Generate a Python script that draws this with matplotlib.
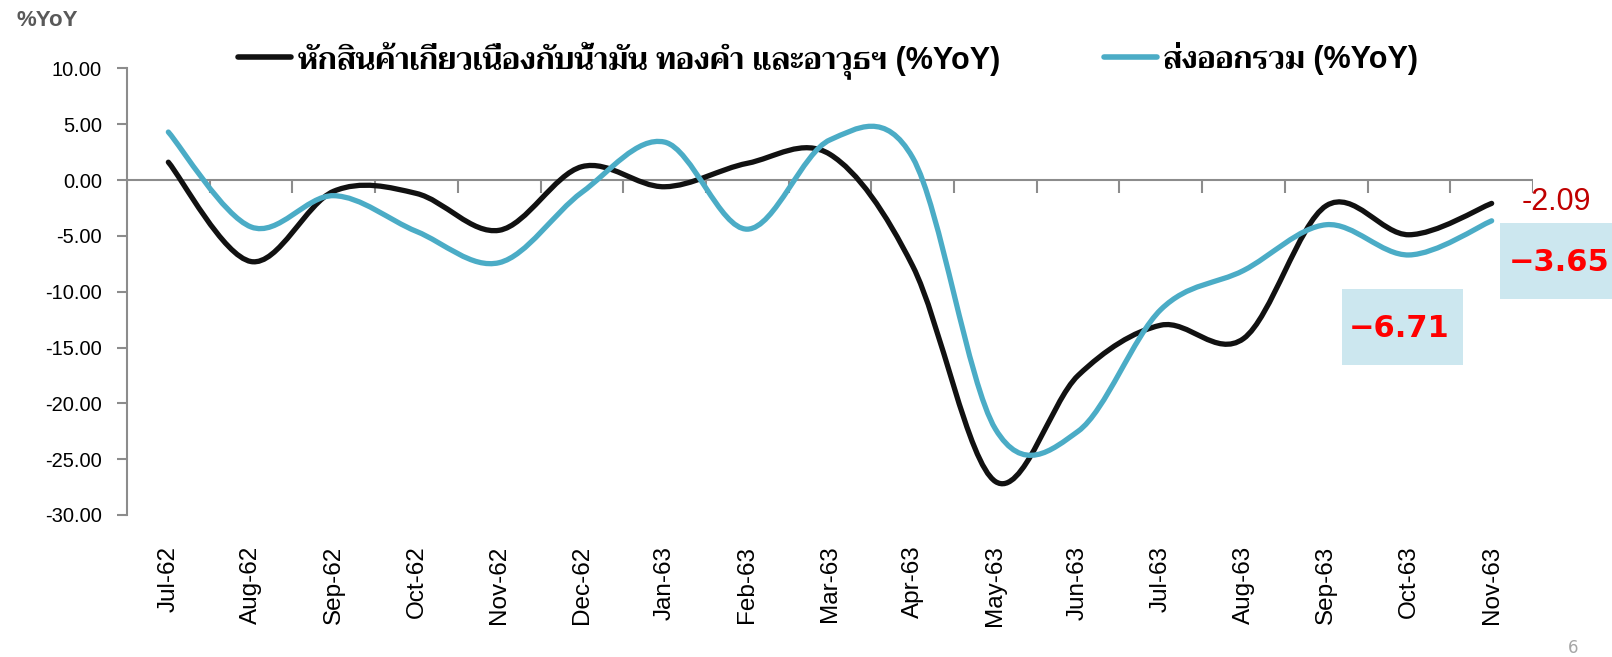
import numpy as np
import matplotlib
matplotlib.use('Agg')
import matplotlib.pyplot as plt
from matplotlib import font_manager
from matplotlib.ft2font import FT2Font
from matplotlib.path import Path
from matplotlib.patches import PathPatch, Rectangle
from matplotlib.lines import Line2D

# data
months = ['Jul-62', 'Aug-62', 'Sep-62', 'Oct-62', 'Nov-62', 'Dec-62', 'Jan-63', 'Feb-63',
          'Mar-63', 'Apr-63', 'May-63', 'Jun-63', 'Jul-63', 'Aug-63', 'Sep-63', 'Oct-63', 'Nov-63']
excl_oil_gold_arms = [1.6, -7.3, -1.0, -1.2, -4.5, 1.2, -0.6, 1.5,
                      2.3, -7.7, -27.0, -17.5, -13.0, -14.2, -2.3, -4.9, -2.09]
total_exports = [4.3, -4.2, -1.4, -4.6, -7.4, -1.1, 3.4, -4.4,
                 3.6, 2.0, -22.3, -22.5, -11.6, -8.1, -4.0, -6.71, -3.65]
labels = ['หักสินค้าเกี่ยวเนื่องกับน้ำมัน ทองคำ และอาวุธฯ (%YoY)', 'ส่งออกรวม (%YoY)']
yticks = [10, 5, 0, -5, -10, -15, -20, -25, -30]

BLACK = '#111111'
BLUE = '#4BACC6'
GRAY = '#8C8C8C'
BOXBLUE = '#CCE7EF'


def find_thai_family():
    """Pick an installed family that has Thai glyphs, bold face preferred."""
    found = None
    for entry in font_manager.fontManager.ttflist:
        try:
            cmap = FT2Font(entry.fname).get_charmap()
        except Exception:
            continue
        if 0x0E2B in cmap and 0x0E33 in cmap:
            if entry.weight in ('bold', 700) or found is None:
                found = entry.name
    return found


thai = find_thai_family()
# Latin glyphs from Liberation Sans, Thai glyphs from whatever family has them
thai_family = ['Liberation Sans', thai, 'DejaVu Sans'] if thai else ['Liberation Sans', 'DejaVu Sans']


def smooth_path(xs, ys):
    """Excel-like smoothed line: Catmull-Rom segments as cubic Beziers."""
    pts = np.column_stack([xs, ys]).astype(float)
    ext = np.vstack([pts[0], pts, pts[-1]])
    verts = [pts[0]]
    codes = [Path.MOVETO]
    for i in range(len(pts) - 1):
        p0, p1, p2, p3 = ext[i], ext[i + 1], ext[i + 2], ext[i + 3]
        verts += [p1 + (p2 - p0) / 6, p2 - (p3 - p1) / 6, p2]
        codes += [Path.CURVE4] * 3
    return Path(verts, codes)


fig = plt.figure(figsize=(16.12, 6.57), dpi=100)
W, H = 1612, 657
ax = fig.add_axes([127 / W, 1 - 515 / H, (1533 - 127) / W, (515 - 68.4) / H])

x = np.arange(len(months))
ax.set_xlim(-0.5, len(months) - 0.5)
ax.set_ylim(-30, 10)

for vals, col in [(excl_oil_gold_arms, BLACK), (total_exports, BLUE)]:
    ax.add_patch(PathPatch(smooth_path(x, vals), fill=False, ec=col, lw=3.8,
                           capstyle='round', joinstyle='round', zorder=3))

# zero line with category boundary ticks
ax.axhline(0, color=GRAY, lw=1.5, zorder=1)
ax.vlines(np.arange(-0.5, len(months)), -1.15, 0, color=GRAY, lw=1.5, zorder=1)

for side in ['top', 'right', 'bottom']:
    ax.spines[side].set_visible(False)
ax.spines['left'].set_color(GRAY)
ax.spines['left'].set_linewidth(1.5)

ax.set_yticks(yticks)
ax.set_yticklabels([f'{v:.2f}' for v in yticks], fontsize=14.5, family='Liberation Sans')
ax.tick_params(axis='y', length=7, width=1.5, color=GRAY, pad=11)

ax.set_xticks(x)
ax.set_xticklabels(months, rotation=90, fontsize=17.5, family='Liberation Sans', va='top')
ax.tick_params(axis='x', length=0, pad=22)

# value callouts (boxes placed in figure pixels, behind the numbers)
for left, top, width in [(1342, 289, 121), (1500, 223, 120)]:
    ax.add_patch(Rectangle((left / W, 1 - (top + 76) / H), width / W, 76 / H, fc=BOXBLUE,
                           ec='none', transform=fig.transFigure, clip_on=False, zorder=4))
ax.text(16.78, -1.95, '-2.09', color='#C00000', fontsize=22, family='Liberation Sans',
        ha='center', va='center', clip_on=False, zorder=5)
ax.text(16.82, -7.35, '−3.65', color='#FF0000', fontsize=22, fontweight='bold',
        family='DejaVu Sans', ha='center', va='center', clip_on=False, zorder=5)
ax.text(14.88, -13.26, '−6.71', color='#FF0000', fontsize=22, fontweight='bold',
        family='DejaVu Sans', ha='center', va='center', clip_on=False, zorder=5)

# legend across the top
handles = [Line2D([], [], color=BLACK, lw=4, solid_capstyle='round'),
           Line2D([], [], color=BLUE, lw=4, solid_capstyle='round')]
fig.legend(handles, labels, loc='center left', bbox_to_anchor=(238 / W, 1 - 60 / H),
           ncol=2, frameon=False, borderpad=0, borderaxespad=0, handlelength=1.73,
           handletextpad=0.22, columnspacing=3.4,
           prop=dict(family=thai_family, weight='bold', size=22))

fig.text(47 / W, 1 - 21 / H, '%YoY', color='#595959', fontsize=16, fontweight='bold',
         family='Liberation Sans', ha='center', va='center')
fig.text(1573 / W, 1 - 648 / H, '6', color='#A6A6A6', fontsize=12, ha='center', va='center')

fig.savefig('out.png', dpi=100)
